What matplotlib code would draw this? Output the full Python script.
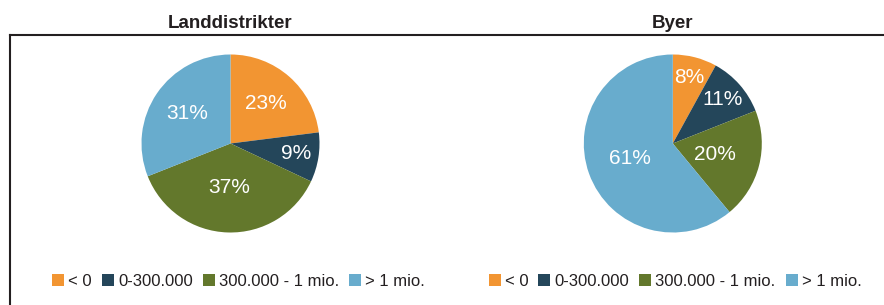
import matplotlib
matplotlib.use("Agg")
import matplotlib.pyplot as plt
import numpy as np
from matplotlib.patches import Patch
from matplotlib.lines import Line2D

plt.rcParams['font.family'] = ['Liberation Sans', 'DejaVu Sans']

categories = ["< 0", "0-300.000", "300.000 - 1 mio.", "> 1 mio."]
titles = ["Landdistrikter", "Byer"]
land_values = [23, 9, 37, 31]
byer_values = [8, 11, 20, 61]
colors = ["#F29532", "#24465A", "#63782C", "#68ACCD"]
label_dist = [[0.60, 0.75, 0.50, 0.59], [0.76, 0.74, 0.49, 0.51]]

W, H = 884, 305
fig = plt.figure(figsize=(W / 100, H / 100), dpi=100)

def px_axes(cx, cy, r):
    return fig.add_axes([(cx - r) / W, (H - cy - r) / H, 2 * r / W, 2 * r / H])

centers = [(230.5, 143.5), (672.8, 143.5)]
R = 89
for i, vals in enumerate([land_values, byer_values]):
    ax = px_axes(*centers[i], R)
    wedges, _ = ax.pie(vals, colors=colors, startangle=90, counterclock=False,
                       radius=1.0, wedgeprops=dict(linewidth=0))
    total = sum(vals)
    for w, v, d in zip(wedges, vals, label_dist[i]):
        ang = np.deg2rad((w.theta1 + w.theta2) / 2)
        ax.text(d * np.cos(ang), d * np.sin(ang), f"{round(100 * v / total)}%",
                ha='center', va='center', color='white', fontsize=15)
    ax.set_xlim(-1, 1)
    ax.set_ylim(-1, 1)
    ax.set_aspect('equal')
    ax.axis('off')
    fig.text(centers[i][0] / W, 1 - 28.3 / H, titles[i], ha='center', va='baseline',
             fontsize=13.5, fontweight='bold', color='#231F20')
    handles = [Patch(facecolor=c, edgecolor='none') for c in colors]
    leg_cx = [238.5, 675][i]
    fig.legend(handles, categories, loc='center', bbox_to_anchor=(leg_cx / W, 1 - 281 / H),
               ncol=4, frameon=False, fontsize=12, handlelength=0.72, handleheight=0.72,
               handletextpad=0.25, columnspacing=0.6, borderpad=0, labelcolor='#231F20')

# frame lines
lc = '#231F20'
fig.add_artist(Line2D([9.5 / W, 9.5 / W], [0, 1 - 35.3 / H], transform=fig.transFigure,
                      color=lc, linewidth=1.5, solid_capstyle='projecting'))
fig.add_artist(Line2D([9.5 / W, 1.0], [1 - 35.3 / H, 1 - 35.3 / H], transform=fig.transFigure,
                      color=lc, linewidth=1.5, solid_capstyle='projecting'))

fig.savefig("out.png", dpi=100)
